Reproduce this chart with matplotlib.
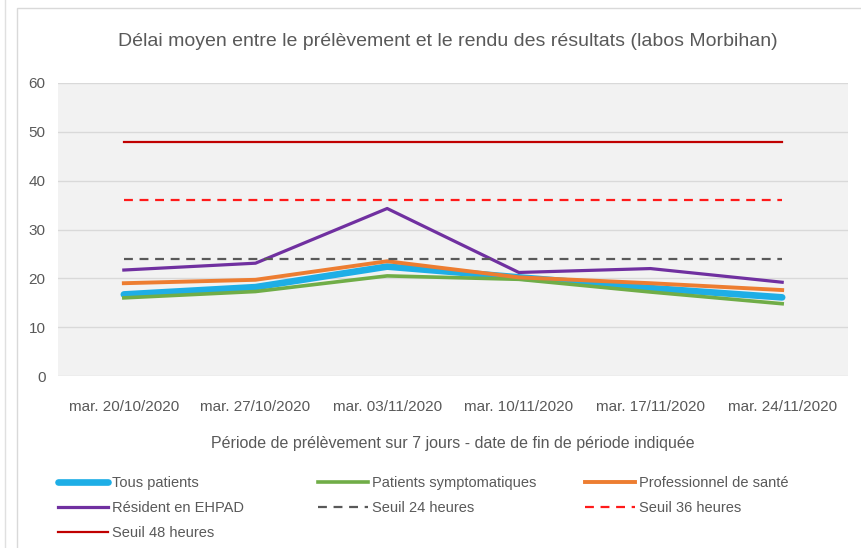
import matplotlib
matplotlib.use("Agg")
import matplotlib.pyplot as plt
from matplotlib.lines import Line2D
from matplotlib.patches import Rectangle

# dates de fin de période
periodes = ["mar. 20/10/2020", "mar. 27/10/2020", "mar. 03/11/2020",
            "mar. 10/11/2020", "mar. 17/11/2020", "mar. 24/11/2020"]

# délais moyens (heures)
tous_patients = [16.7, 18.2, 22.4, 20.2, 18.0, 16.1]
patients_sympto = [16.0, 17.3, 20.5, 19.8, 17.2, 14.8]
pro_sante = [19.0, 19.7, 23.5, 20.2, 19.0, 17.6]
ehpad = [21.7, 23.1, 34.3, 21.2, 22.0, 19.2]

seuil_24 = [24] * 6
seuil_36 = [36] * 6
seuil_48 = [48] * 6

plt.rcParams['font.family'] = ['Liberation Sans Narrow', 'Liberation Sans', 'DejaVu Sans']
GRIS_TXT = '#595959'


def main():
    fig = plt.figure(figsize=(8.61, 5.48), dpi=100)
    fig.patch.set_facecolor('white')

    # cadre du graphique
    fig.add_artist(Rectangle((17 / 861, -0.01), 1.0, 1 - 8 / 548 + 0.01,
                             transform=fig.transFigure, fill=False,
                             edgecolor='#d9d9d9', lw=1.0))
    fig.add_artist(Line2D([5 / 861, 5 / 861], [0, 1], transform=fig.transFigure,
                          color='#e0e0e0', lw=1.0))

    ax = fig.add_axes([58 / 861, 1 - 376 / 548, (848 - 58) / 861, (376 - 83) / 548])
    ax.set_facecolor('#f2f2f2')
    x = range(len(periodes))

    l_tous, = ax.plot(x, tous_patients, color='#1eaee6', lw=4.8, solid_capstyle='round', zorder=3)
    l_sym, = ax.plot(x, patients_sympto, color='#70ad47', lw=2.6, zorder=3)
    l_pro, = ax.plot(x, pro_sante, color='#ed7d31', lw=2.8, zorder=3)
    l_ehp, = ax.plot(x, ehpad, color='#7030a0', lw=2.3, zorder=3)
    l_24, = ax.plot(x, seuil_24, color='#595959', lw=1.6, dashes=(4.0, 3.0), zorder=3)
    l_36, = ax.plot(x, seuil_36, color='#ff1a1a', lw=1.6, dashes=(4.0, 3.0), zorder=3)
    l_48, = ax.plot(x, seuil_48, color='#c00000', lw=1.6, zorder=3)

    ax.set_xlim(-0.5, len(periodes) - 0.5)
    ax.set_ylim(0, 60)
    ax.set_yticks(range(0, 61, 10))
    ax.set_xticks(list(x))
    ax.set_xticklabels(periodes)
    ax.tick_params(axis='both', length=0, labelsize=11, colors=GRIS_TXT)
    ax.tick_params(axis='y', pad=9)
    ax.tick_params(axis='x', pad=17)
    ax.grid(axis='y', color='#d9d9d9', lw=1.0, zorder=1)
    for s in ax.spines.values():
        s.set_visible(False)

    ax.set_xlabel('Période de prélèvement sur 7 jours - date de fin de période indiquée',
                  fontsize=11.5, color=GRIS_TXT, labelpad=16)
    fig.text(448 / 861, 1 - 42 / 548,
             'Délai moyen entre le prélèvement et le rendu des résultats (labos Morbihan)',
             ha='center', va='center', fontsize=14, color=GRIS_TXT)

    # légende sur 3 colonnes
    colonnes = [
        (58, [(l_tous, 'Tous patients'), (l_ehp, 'Résident en EHPAD'), (l_48, 'Seuil 48 heures')]),
        (318, [(l_sym, 'Patients symptomatiques'), (l_24, 'Seuil 24 heures')]),
        (585, [(l_pro, 'Professionnel de santé'), (l_36, 'Seuil 36 heures')]),
    ]
    for x0, items in colonnes:
        leg = fig.legend([h for h, _ in items], [t for _, t in items],
                         loc='upper left', bbox_to_anchor=(x0 / 861, 1 - 476 / 548),
                         frameon=False, fontsize=10.5, handlelength=3.4,
                         handletextpad=0.3, labelspacing=0.75, borderpad=0,
                         borderaxespad=0)
        for t in leg.get_texts():
            t.set_color(GRIS_TXT)

    fig.savefig('out.png', dpi=100, facecolor=fig.get_facecolor())


if __name__ == "__main__":
    main()
